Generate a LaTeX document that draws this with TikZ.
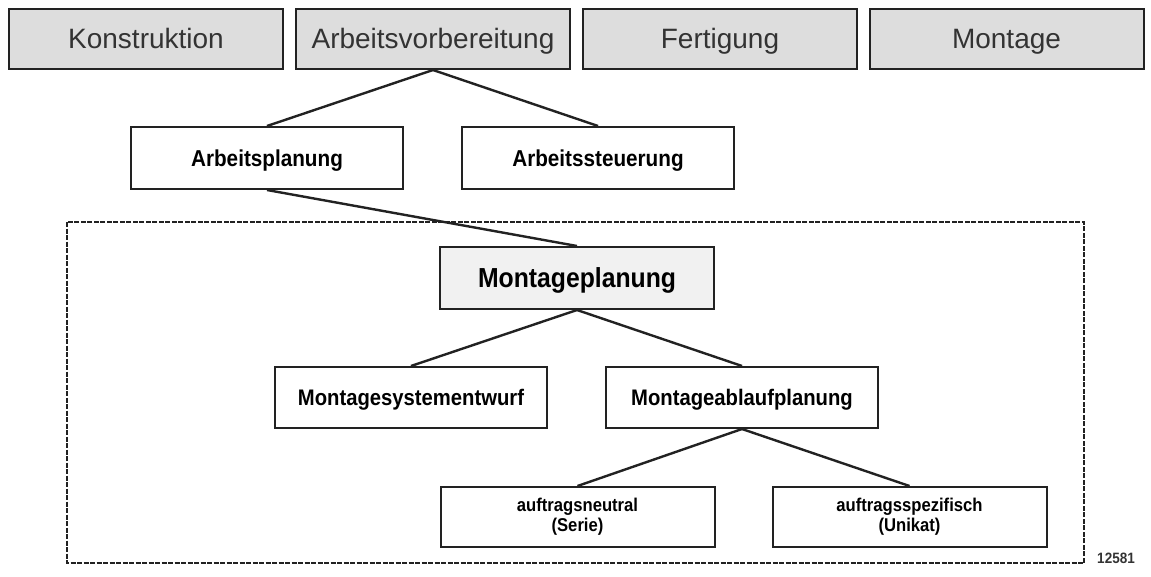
\documentclass[tikz,border=0pt]{standalone}
\usepackage{fontspec}
\setmainfont{Liberation Sans}
\newfontfamily\narrowfam[FakeStretch=0.9]{Liberation Sans}
\definecolor{topfill}{HTML}{DDDDDD}
\definecolor{midfill}{HTML}{F1F1F1}
\definecolor{txtgray}{HTML}{333333}
\definecolor{edge}{HTML}{222222}
\begin{document}
\begin{tikzpicture}[x=1pt,y=-1pt,
  topbox/.style={draw=edge, line width=2pt, fill=topfill, minimum width=274pt, minimum height=60pt, inner sep=0pt, text=txtgray, text height=23pt, text depth=4pt, font=\fontsize{28}{32}\selectfont},
  planbox/.style={draw=edge, line width=2pt, fill=white, minimum width=272pt, minimum height=62pt, inner sep=0pt, text height=19pt, text depth=2pt, font=\narrowfam\bfseries\fontsize{23}{26}\selectfont},
  mainbox/.style={draw=edge, line width=2pt, fill=midfill, minimum width=274pt, minimum height=62pt, inner sep=0pt, text height=22pt, text depth=3pt, font=\narrowfam\bfseries\fontsize{27.5}{30}\selectfont},
  subbox/.style={draw=edge, line width=2pt, fill=white, minimum width=272pt, minimum height=61pt, inner sep=0pt, text height=18pt, text depth=3pt, font=\narrowfam\bfseries\fontsize{22.5}{26}\selectfont},
  leafbox/.style={draw=edge, line width=2pt, fill=white, minimum width=274pt, minimum height=60pt, inner sep=0pt, align=center, font=\narrowfam\bfseries\fontsize{18.5}{20}\selectfont},
  link/.style={draw=edge, line width=2.4pt},
  frame/.style={draw=edge, line width=1.8pt, dash pattern=on 5pt off 1.5pt}
]
\useasboundingbox (0,0) rectangle (1151,576);
\fill[white] (0,0) rectangle (1151,576);

\draw[frame] (67,222) rectangle (1084,563);

\node[topbox] (kon) at (146,39) {Konstruktion};
\node[topbox] (av)  at (433,39) {Arbeitsvorbereitung};
\node[topbox] (fer) at (720,39) {Fertigung};
\node[topbox] (mon) at (1006.5,39) {Montage};

\node[planbox] (ap) at (267,158) {Arbeitsplanung};
\node[planbox] (as) at (598,158) {Arbeitssteuerung};

\node[mainbox] (mp) at (577,278) {Montageplanung};

\node[subbox] (mse) at (411,397.5) {Montagesystementwurf};
\node[subbox] (mab) at (742,397.5) {Montageablaufplanung};

\node[leafbox] (an) at (577.5,517) {auftragsneutral\\(Serie)};
\node[leafbox] (asp) at (909.5,517) {auftragsspezifisch\\(Unikat)};

\node[font=\narrowfam\bfseries\fontsize{15}{16}\selectfont, text=txtgray] (num) at (1116,558) {12581};

\draw[link] (av.south) -- (ap.north);
\draw[link] (av.south) -- (as.north);
\draw[link] (ap.south) -- (mp.north);
\draw[link] (mp.south) -- (mse.north);
\draw[link] (mp.south) -- (mab.north);
\draw[link] (mab.south) -- (an.north);
\draw[link] (mab.south) -- (asp.north);
\end{tikzpicture}
\end{document}
